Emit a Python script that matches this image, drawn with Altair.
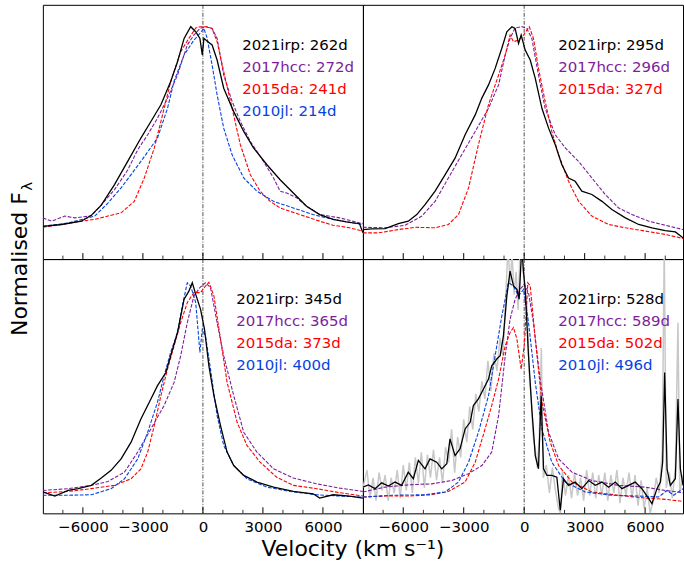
import altair as alt
import pandas as pd

# ---------------- data (velocity in km/s, normalised flux) ----------------
# Top-left panel
tl_irp_v = [-8000,-7070,-6080,-5580,-5080,-4420,-3760,-3100,-2600,-2100,-1610,-1270,-940,-610,-360,-150,-30,50,215,460,710,1040,1540,2040,2530,3200,3860,4520,5180,5840,6510,7170,7830,8000]
tl_irp_f = [0.129,0.136,0.149,0.172,0.212,0.293,0.384,0.476,0.541,0.607,0.698,0.776,0.868,0.914,0.894,0.868,0.803,0.868,0.857,0.842,0.783,0.672,0.580,0.502,0.437,0.371,0.312,0.260,0.208,0.175,0.156,0.146,0.139,0.103]
tl_hcc_v = [-8000,-7570,-6900,-6410,-5580,-4920,-4420,-3760,-3260,-2760,-2270,-1770,-1270,-780,-450,-150,130,460,710,1040,1460,1870,2370,3030,3530,3860,4190,4690,5180,5840,6840,7500,8000]
tl_hcc_f = [0.162,0.149,0.169,0.162,0.170,0.227,0.273,0.350,0.430,0.489,0.554,0.633,0.724,0.842,0.881,0.907,0.914,0.907,0.868,0.724,0.620,0.541,0.463,0.384,0.319,0.267,0.260,0.241,0.208,0.175,0.162,0.149,0.139]
tl_da_v = [-8000,-7070,-6080,-5410,-4090,-3430,-2930,-2430,-2100,-1610,-1110,-700,-360,-120,215,460,710,1040,1460,1870,2370,2860,3360,3860,4850,5840,6510,7330,8000]
tl_da_f = [0.125,0.136,0.149,0.156,0.182,0.227,0.319,0.437,0.541,0.698,0.816,0.868,0.909,0.914,0.914,0.907,0.855,0.737,0.593,0.450,0.332,0.267,0.227,0.201,0.175,0.149,0.133,0.123,0.110]
tl_jl_v = [-8000,-6740,-5410,-4750,-4090,-3100,-2270,-1770,-1440,-940,-450,-150,50,215,460,710,1040,1460,2040,2700,3530,4520,5510,6510,7500,8000]
tl_jl_f = [0.129,0.142,0.169,0.220,0.280,0.384,0.476,0.593,0.700,0.803,0.861,0.888,0.907,0.868,0.763,0.646,0.515,0.410,0.319,0.267,0.227,0.201,0.175,0.156,0.142,0.136]

# Top-right panel
tr_irp_v = [-8000,-7570,-6900,-6240,-5750,-5330,-4920,-4420,-3920,-3430,-2930,-2430,-2100,-1770,-1440,-1110,-860,-610,-450,-280,-150,50,300,550,880,1210,1540,1870,2200,2530,2860,3360,3860,4350,5020,5680,6340,7000,7500,7880]
tr_irp_f = [0.116,0.119,0.120,0.139,0.149,0.175,0.214,0.267,0.332,0.397,0.489,0.567,0.633,0.685,0.750,0.829,0.894,0.914,0.907,0.848,0.881,0.822,0.783,0.711,0.593,0.515,0.450,0.371,0.319,0.306,0.267,0.254,0.227,0.195,0.162,0.136,0.123,0.112,0.107,0.084]
tr_hcc_v = [-8000,-6900,-5910,-5080,-4420,-3760,-3100,-2430,-1770,-1270,-940,-700,-450,-120,130,380,710,1040,1540,2040,2700,3360,4020,4690,5350,6180,7000,7880]
tr_hcc_f = [0.125,0.123,0.133,0.169,0.227,0.319,0.410,0.502,0.593,0.685,0.803,0.868,0.909,0.914,0.907,0.868,0.724,0.593,0.489,0.437,0.384,0.319,0.254,0.201,0.175,0.149,0.133,0.116]
tr_da_v = [-8000,-7240,-6240,-5410,-4420,-3760,-3260,-2760,-2270,-1770,-1270,-940,-700,-530,-280,-30,250,460,710,1040,1370,1710,2200,2700,3360,4190,5020,6010,7000,7880]
tr_da_f = [0.103,0.103,0.116,0.125,0.123,0.136,0.175,0.280,0.450,0.607,0.724,0.803,0.881,0.855,0.861,0.881,0.914,0.868,0.750,0.620,0.502,0.410,0.306,0.227,0.169,0.136,0.123,0.110,0.097,0.081]

# Bottom-left panel
bl_irp_v = [-8000,-7400,-6740,-6240,-5580,-5080,-4590,-4090,-3590,-3100,-2600,-2270,-1850,-1610,-1270,-940,-700,-530,-360,-120,80,300,550,880,1210,1540,2040,2700,3530,4520,5510,5840,6510,7330,8000]
bl_irp_f = [0.084,0.068,0.090,0.097,0.110,0.139,0.169,0.214,0.280,0.371,0.450,0.502,0.554,0.620,0.711,0.842,0.874,0.907,0.861,0.803,0.724,0.580,0.463,0.345,0.241,0.188,0.149,0.123,0.103,0.086,0.077,0.060,0.073,0.068,0.060]
bl_hcc_v = [-8000,-6740,-5580,-4750,-3920,-3260,-2600,-1940,-1440,-1110,-780,-450,-150,130,380,710,1040,1540,2040,2700,3530,4520,5680,6840,8000]
bl_hcc_f = [0.090,0.097,0.110,0.125,0.162,0.241,0.332,0.424,0.515,0.620,0.750,0.855,0.888,0.907,0.888,0.750,0.620,0.463,0.319,0.241,0.175,0.139,0.116,0.099,0.086]
bl_da_v = [-8000,-6740,-5580,-4420,-3590,-3100,-2760,-2430,-2100,-1770,-1440,-1110,-780,-450,-120,130,300,550,880,1210,1710,2200,2860,3690,4520,5680,6840,8000]
bl_da_f = [0.081,0.086,0.097,0.110,0.136,0.175,0.241,0.345,0.463,0.567,0.659,0.750,0.829,0.868,0.868,0.894,0.909,0.855,0.685,0.515,0.358,0.267,0.201,0.142,0.110,0.097,0.081,0.068]
bl_jl_v = [-8000,-6740,-5580,-4590,-3920,-3260,-2760,-2270,-1940,-1610,-1270,-1030,-780,-610,-360,-150,-30,130,380,710,1040,1540,2200,3200,4350,5680,6840,8000]
bl_jl_f = [0.071,0.071,0.073,0.097,0.136,0.214,0.319,0.437,0.541,0.633,0.711,0.816,0.907,0.894,0.829,0.633,0.724,0.698,0.567,0.384,0.267,0.188,0.136,0.103,0.086,0.073,0.068,0.064]

# Bottom-right panel
br_irp_v = [-8000,-7730,-7400,-7070,-6740,-6410,-6080,-5750,-5500,-5250,-4920,-4670,-4340,-4090,-3840,-3680,-3430,-3180,-2930,-2680,-2520,-2270,-2020,-1770,-1610,-1360,-1190,-1030,-860,-700,-530,-360,-250,-120,-30,50,215,380,550,710,840,960,1130,1370,1620,1790,1950,2200,2530,2860,3200,3530,3860,4190,4520,4850,5180,5510,5840,6180,6340,6590,6760,6870,6970,7090,7250,7500,7630,7750,7880]
br_irp_f = [0.103,0.112,0.097,0.120,0.107,0.123,0.110,0.162,0.136,0.208,0.175,0.214,0.201,0.175,0.195,0.293,0.227,0.254,0.332,0.358,0.424,0.450,0.489,0.528,0.580,0.607,0.620,0.698,0.855,0.953,0.894,0.881,0.842,1.05,0.946,0.881,0.620,0.410,0.227,0.175,0.463,0.175,0.149,0.149,0.142,0.012,0.136,0.110,0.123,0.097,0.129,0.110,0.123,0.103,0.123,0.097,0.110,0.123,0.097,0.058,0.038,0.097,0.123,0.201,0.554,0.175,0.110,0.136,0.450,0.175,0.110]
br_grey_v = [-8000,-7800,-7650,-7500,-7350,-7200,-7050,-6900,-6750,-6600,-6450,-6300,-6150,-6000,-5850,-5700,-5550,-5400,-5250,-5100,-4950,-4800,-4650,-4500,-4350,-4200,-4050,-3900,-3750,-3600,-3450,-3300,-3150,-3000,-2850,-2700,-2550,-2400,-2250,-2100,-1950,-1800,-1650,-1500,-1350,-1200,-1050,-900,-800,-700,-600,-500,-400,-300,-200,-120,-50,50,150,250,350,450,550,650,750,850,950,1100,1250,1400,1550,1700,1800,1900,2050,2200,2350,2500,2650,2800,2950,3100,3250,3400,3550,3700,3850,4000,4150,4300,4450,4600,4750,4900,5050,5200,5350,5500,5650,5800,5950,6100,6250,6400,6550,6700,6850,6950,7050,7200,7350,7500,7630,7720,7880]
br_grey_f = [0.10,0.17,0.06,0.14,0.05,0.16,0.09,0.15,0.05,0.14,0.08,0.17,0.06,0.19,0.09,0.20,0.08,0.22,0.12,0.24,0.10,0.23,0.14,0.25,0.13,0.22,0.12,0.26,0.20,0.33,0.16,0.30,0.22,0.37,0.28,0.42,0.33,0.47,0.40,0.52,0.45,0.60,0.48,0.63,0.56,0.69,0.62,0.88,1.05,0.90,1.02,0.86,0.95,0.80,1.05,1.05,0.95,0.88,0.80,0.55,0.45,0.30,0.25,0.18,0.30,0.65,0.14,0.19,0.08,0.18,0.09,0.02,0.0,0.17,0.07,0.15,0.06,0.16,0.07,0.14,0.05,0.17,0.07,0.16,0.06,0.15,0.07,0.16,0.05,0.15,0.08,0.17,0.04,0.14,0.07,0.16,0.06,0.15,0.03,0.13,0.02,0.10,0.0,0.05,0.14,0.08,0.25,1.05,0.10,0.16,0.06,0.18,0.75,0.08,0.15]
br_hcc_v = [-8000,-6900,-5750,-4590,-3590,-2760,-2100,-1610,-1270,-940,-700,-450,-200,0,215,460,790,1210,1710,2370,3360,4690,6010,7000,7880]
br_hcc_f = [0.084,0.103,0.112,0.116,0.129,0.156,0.188,0.241,0.384,0.620,0.763,0.842,0.881,0.901,0.868,0.750,0.528,0.319,0.214,0.162,0.129,0.110,0.103,0.090,0.081]
br_da_v = [-8000,-6900,-5750,-4590,-3760,-2930,-2430,-1940,-1610,-1270,-940,-700,-530,-360,-150,20,180,300,550,880,1290,1710,2370,3360,4690,6010,7000,7880]
br_da_f = [0.064,0.068,0.068,0.073,0.086,0.123,0.201,0.332,0.424,0.528,0.659,0.711,0.731,0.685,0.567,0.672,0.907,0.894,0.685,0.437,0.280,0.188,0.123,0.084,0.071,0.060,0.055,0.047]
br_jl_v = [-8000,-6570,-4920,-3920,-3260,-2760,-2270,-1770,-1440,-1110,-780,-530,-280,-30,215,550,880,1370,2040,3030,4350,5680,6670,7090,7420,7880]
br_jl_f = [0.064,0.071,0.073,0.084,0.123,0.201,0.319,0.463,0.620,0.776,0.907,0.894,0.855,0.881,0.750,0.515,0.332,0.201,0.123,0.084,0.071,0.068,0.064,0.090,0.071,0.097]

# Labels
tl_labels = ["2021irp: 262d", "2017hcc: 272d", "2015da: 241d", "2010jl: 214d"]
tr_labels = ["2021irp: 295d", "2017hcc: 296d", "2015da: 327d"]
bl_labels = ["2021irp: 345d", "2017hcc: 365d", "2015da: 373d", "2010jl: 400d"]
br_labels = ["2021irp: 528d", "2017hcc: 589d", "2015da: 502d", "2010jl: 496d"]

major_ticks = [-6000, -3000, 0, 3000, 6000]
minor_ticks = [-7000, -5000, -4000, -2000, -1000, 1000, 2000, 4000, 5000, 7000]

# ---------------- styling ----------------
SERIES = ["2017hcc", "2015da", "2010jl"]
COLORS = ["#7e1e9c", "#ff0000", "#0343df"]
LABEL_COLORS = ["#000000", "#7e1e9c", "#ff0000", "#0343df"]
FONT = "DejaVu Sans"
W, H = 321, 255


def df(v, f, name):
    return pd.DataFrame({"v": v, "f": f, "s": name})


def panel(black, comps, labels, label_x, xmax, xaxis, grey=None, extras=()):
    xs = alt.Scale(domain=[-8000, xmax], nice=False, zero=False)
    ys = alt.Scale(domain=[0, 1], nice=False, zero=False)
    if xaxis:
        ax = alt.Axis(values=major_ticks, format="d", ticks=False, domain=False,
                      grid=False, labelFontSize=15, labelFont=FONT,
                      labelColor="black", labelPadding=6, title=None)
    else:
        ax = None
    X = alt.X("v:Q", scale=xs, axis=ax)
    Y = alt.Y("f:Q", scale=ys, axis=None)

    layers = []
    zero = alt.Chart(pd.DataFrame({"v": [0]})).mark_rule(
        color="#222222", strokeWidth=0.8, strokeDash=[4, 1.5, 1, 1.5]
    ).encode(x=X, y=alt.value(0), y2=alt.value(H))
    layers.append(zero)
    if grey is not None:
        layers.append(alt.Chart(grey).mark_line(color="#c8c8c8", strokeWidth=1.5, clip=True)
                      .encode(x=X, y=Y))
    cdf = pd.concat(comps, ignore_index=True)
    layers.append(alt.Chart(cdf).mark_line(strokeWidth=1.1, strokeDash=[3.7, 1.6], clip=True)
                  .encode(x=X, y=Y, color=alt.Color("s:N", scale=alt.Scale(domain=SERIES, range=COLORS), legend=None)))
    layers.append(alt.Chart(black).mark_line(color="black", strokeWidth=1.3, clip=True)
                  .encode(x=X, y=Y))
    layers.append(alt.Chart(pd.DataFrame({"v": major_ticks})).mark_rule(color="black", strokeWidth=1)
                  .encode(x=X, y=alt.value(H), y2=alt.value(H - 6)))
    layers.append(alt.Chart(pd.DataFrame({"v": minor_ticks})).mark_rule(color="black", strokeWidth=0.8)
                  .encode(x=X, y=alt.value(H), y2=alt.value(H - 3.5)))
    for i, lab in enumerate(labels):
        layers.append(alt.Chart(pd.DataFrame({"t": [lab]})).mark_text(
            align="left", baseline="middle", fontSize=15, font=FONT, color=LABEL_COLORS[i]
        ).encode(x=alt.value(label_x), y=alt.value(40 + 22.2 * i), text="t:N"))
    layers.extend(extras)
    return alt.layer(*layers).properties(width=W, height=H)


one = pd.DataFrame({"a": [0]})

# y label (top-left panel) and invisible bound markers
ylab = alt.Chart(one).mark_text(text="Normalised F", angle=270, fontSize=22, font=FONT,
                                align="center", baseline="middle", color="black").encode(
    x=alt.value(-23), y=alt.value(260))
ylam = alt.Chart(one).mark_text(text="λ", angle=270, fontSize=15, font=FONT,
                                align="center", baseline="middle", color="black").encode(
    x=alt.value(-16), y=alt.value(182))
mark_tl = alt.Chart(one).mark_rule(opacity=0).encode(x=alt.value(-42), y=alt.value(-3), y2=alt.value(0))

xlab = alt.Chart(one).mark_text(text="Velocity (km s⁻¹)", fontSize=22, font=FONT,
                                align="center", baseline="middle", color="black").encode(
    x=alt.value(311), y=alt.value(291))
mark_bl = alt.Chart(one).mark_rule(opacity=0).encode(x=alt.value(0), y=alt.value(H), y2=alt.value(309))

tl = panel(df(tl_irp_v, tl_irp_f, "2021irp"),
           [df(tl_hcc_v, tl_hcc_f, "2017hcc"), df(tl_da_v, tl_da_f, "2015da"), df(tl_jl_v, tl_jl_f, "2010jl")],
           tl_labels, 200, 8000, False, extras=(ylab, ylam, mark_tl))
tr = panel(df(tr_irp_v, tr_irp_f, "2021irp"),
           [df(tr_hcc_v, tr_hcc_f, "2017hcc"), df(tr_da_v, tr_da_f, "2015da")],
           tr_labels, 196, 7880, False)
bl = panel(df(bl_irp_v, bl_irp_f, "2021irp"),
           [df(bl_hcc_v, bl_hcc_f, "2017hcc"), df(bl_da_v, bl_da_f, "2015da"), df(bl_jl_v, bl_jl_f, "2010jl")],
           bl_labels, 194, 8000, True, extras=(xlab, mark_bl))
br = panel(df(br_irp_v, br_irp_f, "2021irp"),
           [df(br_hcc_v, br_hcc_f, "2017hcc"), df(br_da_v, br_da_f, "2015da"), df(br_jl_v, br_jl_f, "2010jl")],
           br_labels, 196, 7880, True, grey=df(br_grey_v, br_grey_f, "grey"))

chart = alt.concat(tl, tr, bl, br, columns=2, spacing=0, bounds="flush").properties(
    padding={"left": 0, "top": 0, "right": 0, "bottom": 0},
    background="white",
).configure_view(stroke="black", strokeWidth=1)

chart.save("out.html", embed_options={"renderer": "svg", "actions": False})
